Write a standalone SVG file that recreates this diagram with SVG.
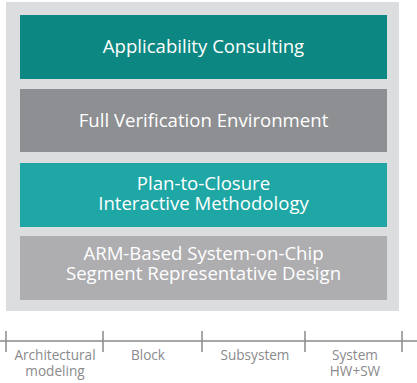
<svg xmlns="http://www.w3.org/2000/svg" width="417" height="383" viewBox="0 0 417 383">
  <style>
    .layer-text { font-family: "Open Sans", "Noto Sans", sans-serif; font-size: 18.6px; fill: #ffffff; text-anchor: middle; }
    .axis-text { font-family: "Open Sans", "Noto Sans", sans-serif; font-size: 13.6px; fill: #8a8a8c; text-anchor: middle; }
    .axis { stroke: #8a8a8c; stroke-width: 1.5; fill: none; }
  </style>
  <rect width="417" height="383" fill="#ffffff"/>
  <!-- backing panel -->
  <rect id="panel" x="6" y="2" width="393" height="309" fill="#dcddde"/>

  <g id="applicability-consulting">
    <rect x="20" y="15" width="367" height="64" fill="#0c8781"/>
    <text class="layer-text" x="203.5" y="53">Applicability Consulting</text>
  </g>
  <g id="full-verification-environment">
    <rect x="20" y="89" width="367" height="63" fill="#8e8f92"/>
    <text class="layer-text" x="203.5" y="127">Full Verification Environment</text>
  </g>
  <g id="plan-to-closure">
    <rect x="20" y="163" width="367" height="64" fill="#1ea7a5"/>
    <text class="layer-text" x="203.5" y="190">Plan-to-Closure</text>
    <text class="layer-text" x="203.5" y="210">Interactive Methodology</text>
  </g>
  <g id="arm-soc-design">
    <rect x="20" y="236" width="367" height="64" fill="#aeadb0"/>
    <text class="layer-text" x="203.5" y="260" fill="#f4f4f4">ARM-Based System-on-Chip</text>
    <text class="layer-text" x="203.5" y="280" fill="#f4f4f4">Segment Representative Design</text>
  </g>

  <!-- abstraction-level axis -->
  <g id="connectors">
    <line class="axis" x1="0" y1="341" x2="417" y2="341"/>
    <line class="axis" x1="6" y1="331" x2="6" y2="352"/>
    <line class="axis" x1="103" y1="331" x2="103" y2="352"/>
    <line class="axis" x1="202" y1="331" x2="202" y2="352"/>
    <line class="axis" x1="305" y1="331" x2="305" y2="352"/>
    <line class="axis" x1="402" y1="331" x2="402" y2="352"/>
  </g>
  <g id="axis-labels">
    <text class="axis-text" x="55" y="360">Architectural</text>
    <text class="axis-text" x="55" y="376">modeling</text>
    <text class="axis-text" x="148" y="360">Block</text>
    <text class="axis-text" x="255" y="360">Subsystem</text>
    <text class="axis-text" x="355" y="360">System</text>
    <text class="axis-text" x="355" y="376">HW+SW</text>
  </g>
</svg>
